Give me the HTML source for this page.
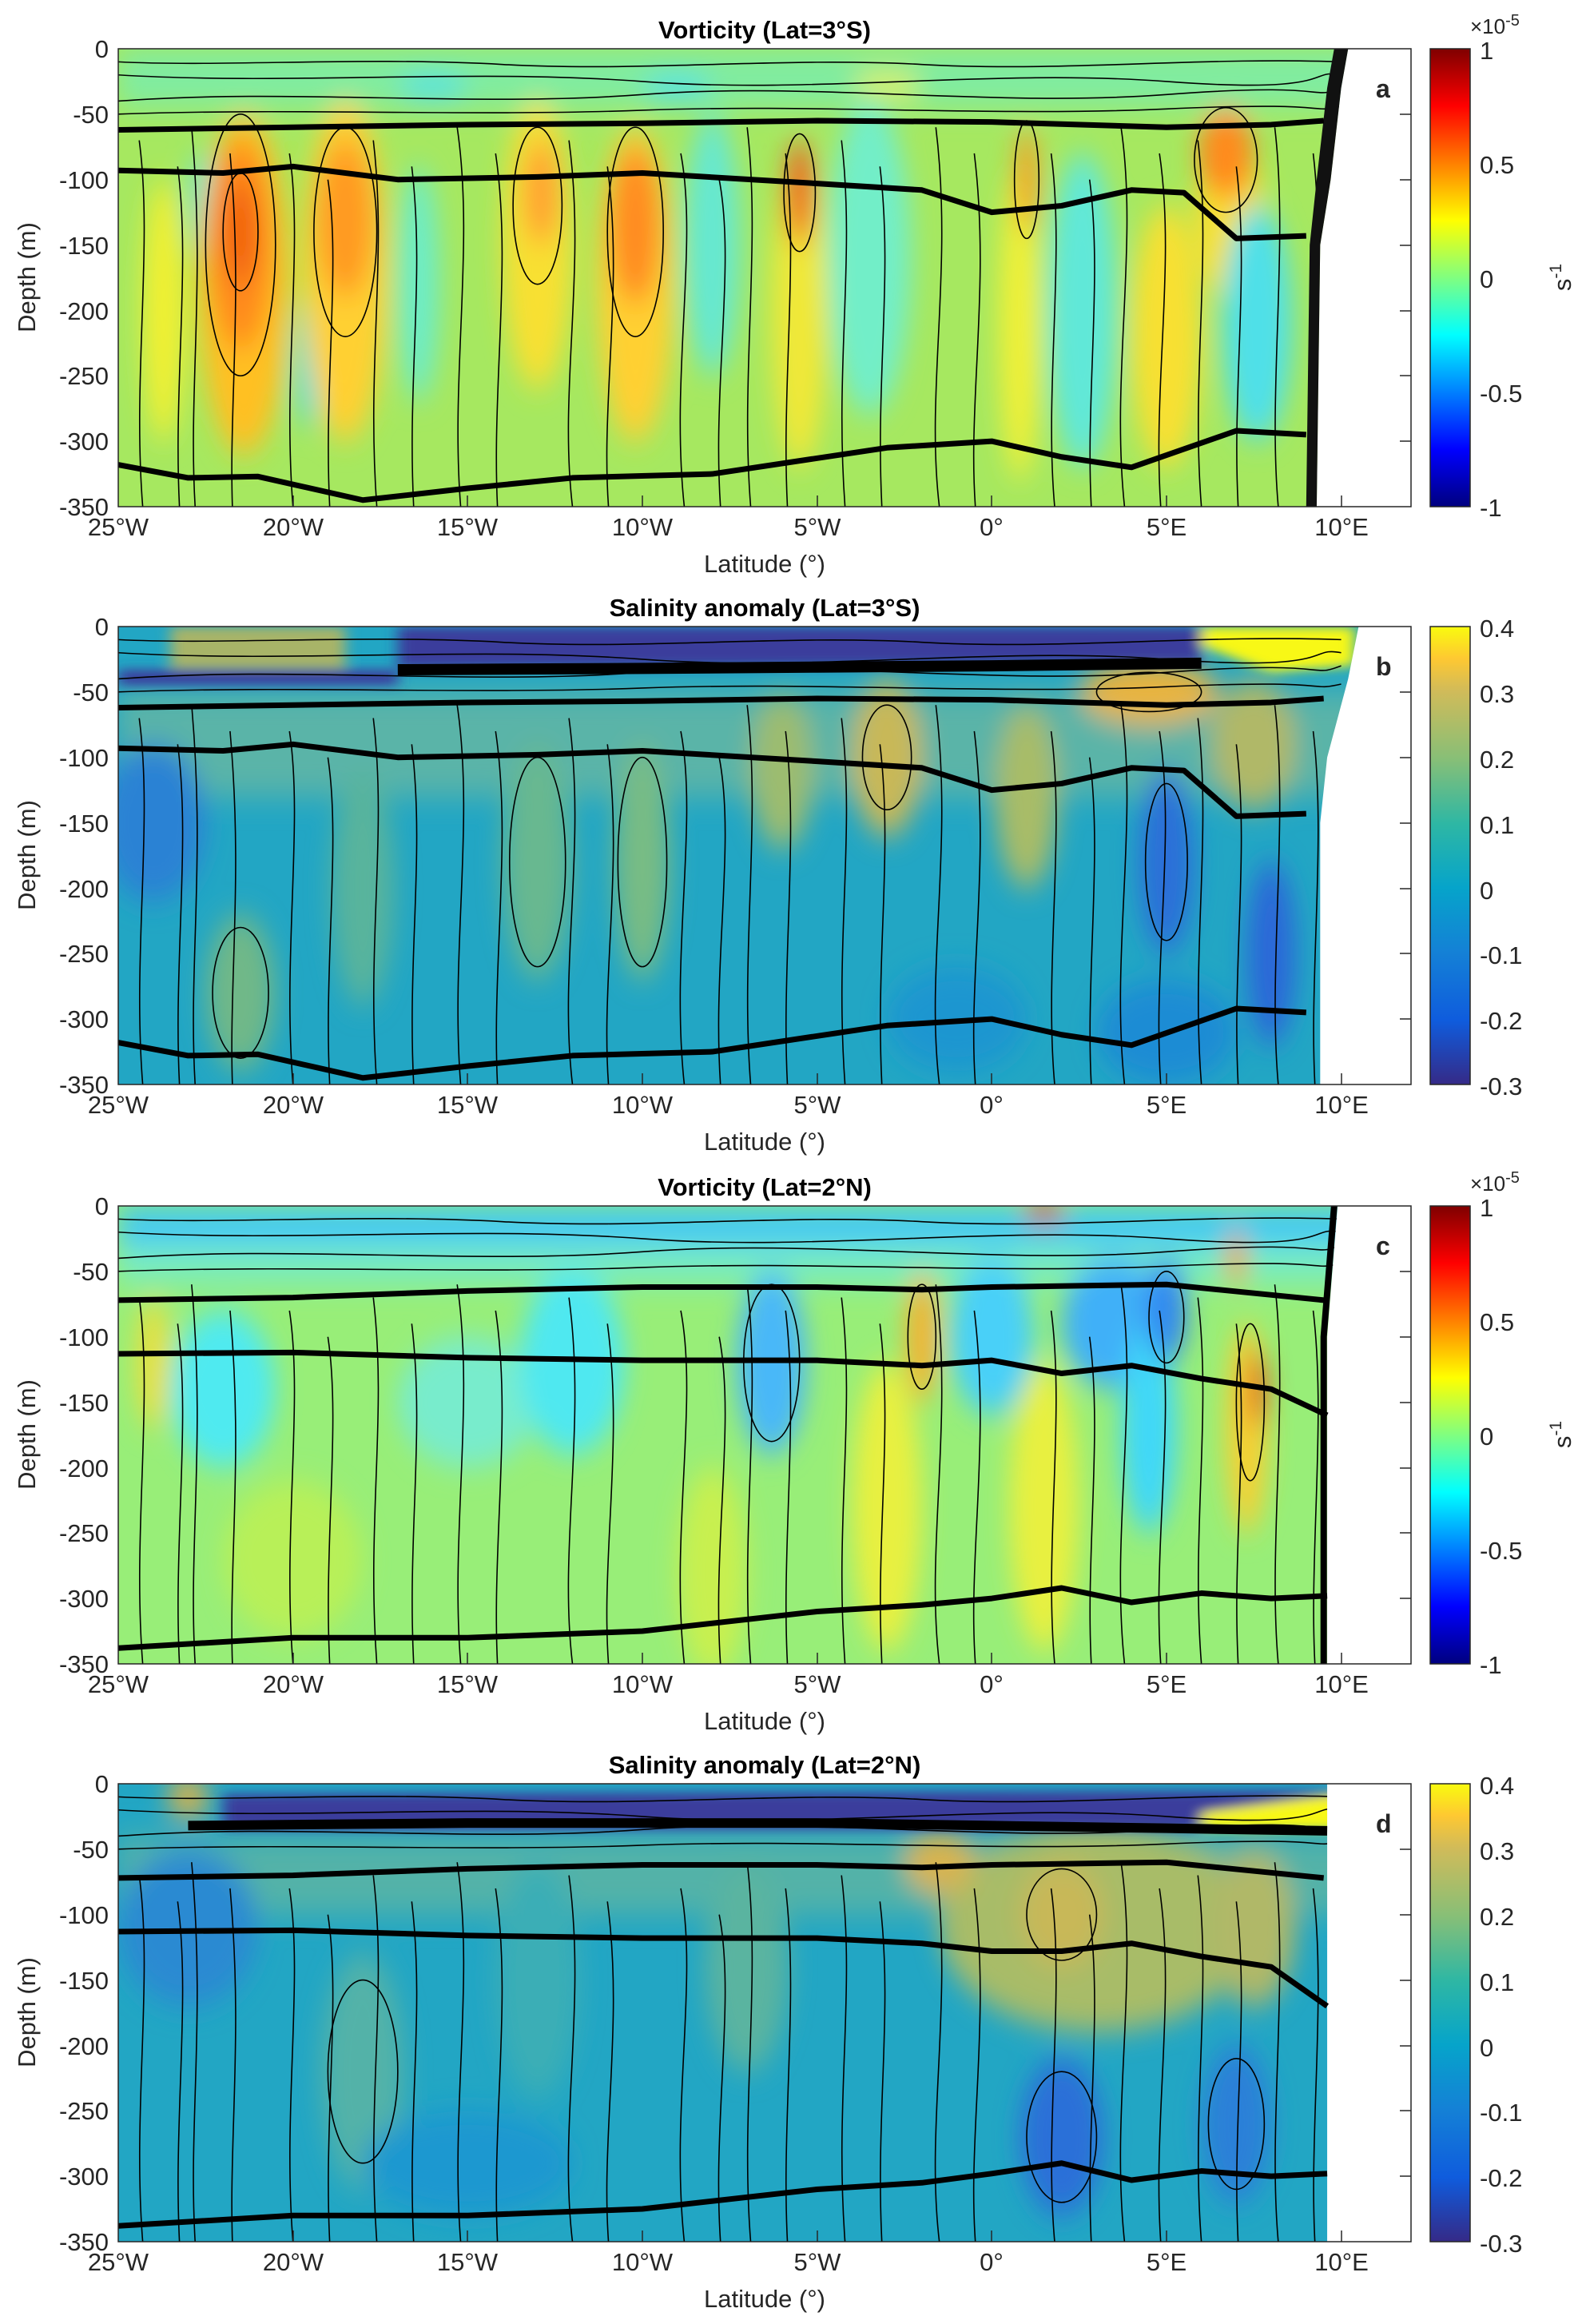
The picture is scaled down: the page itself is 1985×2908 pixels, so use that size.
<!DOCTYPE html>
<html><head><meta charset="utf-8"><style>
body{margin:0;background:#fff}
svg{display:block}
text{font-family:"Liberation Sans",sans-serif;fill:#262626}
.tk{font-size:31px}
.tt{font-size:31px;font-weight:bold;fill:#000}
.ct{stroke:#000;stroke-width:1.6;fill:none;vector-effect:non-scaling-stroke}
.th{stroke:#000;stroke-width:7;fill:none;vector-effect:non-scaling-stroke;stroke-linejoin:round}
.ax{stroke:#262626;stroke-width:1.5;fill:none;vector-effect:non-scaling-stroke}
</style></head><body>
<svg width="1985" height="2908" viewBox="0 0 1985 2908" xmlns="http://www.w3.org/2000/svg">
<defs>
<filter id="bl" filterUnits="userSpaceOnUse" x="-40" y="-100" width="70" height="600"><feGaussianBlur stdDeviation="0.35 11"/></filter>
<filter id="bs" filterUnits="userSpaceOnUse" x="-40" y="-100" width="70" height="600"><feGaussianBlur stdDeviation="0.2 4"/></filter>
<clipPath id="cp" clipPathUnits="userSpaceOnUse"><rect x="-25" y="0" width="37" height="350"/></clipPath>
<linearGradient id="jet" x1="0" y1="1" x2="0" y2="0">
<stop offset="0" stop-color="#00007f"/><stop offset="0.125" stop-color="#0000ff"/><stop offset="0.375" stop-color="#00ffff"/><stop offset="0.5" stop-color="#80ff80"/><stop offset="0.625" stop-color="#ffff00"/><stop offset="0.875" stop-color="#ff0000"/><stop offset="1" stop-color="#7f0000"/></linearGradient>
<linearGradient id="par" x1="0" y1="1" x2="0" y2="0">
<stop offset="0" stop-color="#352a87"/><stop offset="0.14" stop-color="#0f5cdd"/><stop offset="0.29" stop-color="#1481d6"/><stop offset="0.43" stop-color="#06a4ca"/><stop offset="0.57" stop-color="#2eb7a4"/><stop offset="0.71" stop-color="#87bf77"/><stop offset="0.86" stop-color="#d1bb59"/><stop offset="0.93" stop-color="#fec832"/><stop offset="1" stop-color="#f9fb0e"/></linearGradient>
<g id="vc0">
<path class="ct" d="M-24.3,350 C-24.6,250 -24,150 -24.4,70"/>
<path class="ct" d="M-22.8,350 C-23,260 -22.5,180 -22.9,60"/>
<path class="ct" d="M-20,350 C-20.3,250 -19.7,150 -20.1,80"/>
<path class="ct" d="M-17.6,350 C-17.9,240 -17.3,160 -17.7,70"/>
<path class="ct" d="M-15.2,350 C-15.5,250 -14.8,150 -15.3,60"/>
<path class="ct" d="M-12,350 C-12.4,260 -11.6,170 -12.1,70"/>
<path class="ct" d="M-8.8,350 C-9.2,250 -8.4,150 -8.9,80"/>
<path class="ct" d="M-6.9,350 C-7.2,250 -6.6,150 -7,60"/>
<path class="ct" d="M-4.2,350 C-4.5,240 -3.9,160 -4.3,70"/>
<path class="ct" d="M-1.5,350 C-1.9,260 -1.1,170 -1.6,60"/>
<path class="ct" d="M1.8,350 C1.5,260 2.1,160 1.7,80"/>
<path class="ct" d="M3.8,350 C3.4,250 4.2,150 3.7,60"/>
<path class="ct" d="M6,350 C5.7,250 6.3,160 5.9,70"/>
<path class="ct" d="M8.2,350 C7.9,260 8.5,150 8.1,60"/>
</g>
<g id="vc">
<use href="#vc0"/>
<use href="#vc0" transform="translate(1.1,20)"/>
<path class="ct" d="M-25,40 C-20,30 -15,45 -10,35 S0,45 5,35 S9,40 10,30"/>
<path class="ct" d="M-25,20 C-20,28 -15,15 -10,25 S0,15 5,25 S9,15 10,20"/>
<path class="ct" d="M-25,50 C-20,45 -15,52 -10,47 S0,52 5,46 S9,50 10,44"/>
<path class="ct" d="M-25,10 C-22,14 -18,6 -14,12 S-6,6 -2,12 S6,6 10,10"/>
</g>
</defs>

<!-- ===== Panel a ===== -->
<text class="tt" x="957" y="48" text-anchor="middle">Vorticity (Lat=3°S)</text>
<g transform="translate(148,61) scale(43.73,1.637) translate(25,0)">
<g clip-path="url(#cp)">
<rect x="-25" y="0" width="37" height="350" fill="#a6e860"/>
<g filter="url(#bl)">
<rect x="-25" y="0" width="37" height="45" fill="#80eca0"/>
<ellipse cx="-23.7" cy="200" rx="0.6" ry="100" fill="#f2f030"/>
<ellipse cx="-22.6" cy="120" rx="0.35" ry="40" fill="#50e8e0"/>
<ellipse cx="-21.4" cy="180" rx="1.3" ry="130" fill="#ffc020"/>
<ellipse cx="-21.5" cy="150" rx="0.9" ry="80" fill="#ff8a1a"/>
<ellipse cx="-21.5" cy="140" rx="0.45" ry="40" fill="#f05e10"/>
<ellipse cx="-19.6" cy="240" rx="0.3" ry="50" fill="#40dcea"/>
<ellipse cx="-18.5" cy="170" rx="1.2" ry="130" fill="#ffd030"/>
<ellipse cx="-18.5" cy="130" rx="0.8" ry="60" fill="#ff9a20"/>
<ellipse cx="-16.4" cy="180" rx="0.6" ry="90" fill="#6cecc8"/>
<ellipse cx="-13" cy="150" rx="1" ry="110" fill="#f8e030"/>
<ellipse cx="-12.9" cy="110" rx="0.5" ry="40" fill="#ffa030"/>
<ellipse cx="-10.2" cy="180" rx="1.1" ry="120" fill="#ffd030"/>
<ellipse cx="-10.2" cy="135" rx="0.7" ry="60" fill="#ff8a20"/>
<ellipse cx="-8" cy="150" rx="0.8" ry="100" fill="#66e8d0"/>
<ellipse cx="-5.5" cy="200" rx="0.8" ry="120" fill="#f0e838"/>
<ellipse cx="-5.5" cy="110" rx="0.4" ry="40" fill="#f06020"/>
<ellipse cx="-3.5" cy="160" rx="1.2" ry="120" fill="#72eec8"/>
<ellipse cx="0.8" cy="210" rx="0.6" ry="120" fill="#f0f038"/>
<ellipse cx="1" cy="100" rx="0.3" ry="40" fill="#ff9a20"/>
<ellipse cx="2.6" cy="200" rx="1" ry="120" fill="#60e8d8"/>
<ellipse cx="5" cy="220" rx="1" ry="100" fill="#f8e030"/>
<ellipse cx="6.8" cy="130" rx="1" ry="60" fill="#f8e030"/>
<ellipse cx="6.7" cy="80" rx="0.8" ry="35" fill="#ff8a1a"/>
<ellipse cx="7.6" cy="210" rx="1" ry="90" fill="#50e0e8"/>
<ellipse cx="-16" cy="30" rx="1" ry="8" fill="#40e0f0"/>
<ellipse cx="-9" cy="30" rx="1" ry="8" fill="#40e0f0"/>
<ellipse cx="-3" cy="28" rx="1" ry="8" fill="#f0f040"/>
</g>
<use href="#vc"/>
<ellipse class="ct" cx="-21.5" cy="150" rx="1" ry="100"/><ellipse class="ct" cx="-21.5" cy="140" rx="0.5" ry="45"/>
<ellipse class="ct" cx="-18.5" cy="140" rx="0.9" ry="80"/><ellipse class="ct" cx="-10.2" cy="140" rx="0.8" ry="80"/>
<ellipse class="ct" cx="-13" cy="120" rx="0.7" ry="60"/><ellipse class="ct" cx="-5.5" cy="110" rx="0.45" ry="45"/>
<ellipse class="ct" cx="6.7" cy="85" rx="0.9" ry="40"/><ellipse class="ct" cx="1" cy="100" rx="0.35" ry="45"/>
<path d="M9.3,350 L9.4,150 L9.7,100 L10,30 L10.2,0 L12,0 L12,350 Z" fill="#fff"/>
<path d="M9.0,350 L9.1,150 L9.3,100 L9.6,30 L9.8,0 L10.2,0 L10,30 L9.7,100 L9.4,150 L9.3,350 Z" fill="#111"/>
<path class="th" d="M-25,62 L-20,60 L-15,58 L-10,57 L-5,55 L0,56 L5,60 L8,58 L9.5,55"/>
<path class="th" d="M-25,93 L-22,95 L-20,90 L-17,100 L-13,98 L-10,95 L-5,103 L-2,108 L0,125 L2,120 L4,108 L5.5,110 L7,145 L9,143"/>
<path class="th" d="M-25,318 L-23,328 L-21,327 L-18,345 L-15,336 L-12,328 L-8,325 L-3,305 L0,300 L2,312 L4,320 L7,292 L9,295"/>
</g></g>

<!-- ===== Panel b ===== -->
<text class="tt" x="957" y="771" text-anchor="middle">Salinity anomaly (Lat=3°S)</text>
<g transform="translate(148,784) scale(43.73,1.637) translate(25,0)">
<g clip-path="url(#cp)">
<rect x="-25" y="0" width="37" height="350" fill="#22a6c4"/>
<g filter="url(#bl)">
<rect x="-25" y="50" width="37" height="80" fill="#5ab4a8"/>
<ellipse cx="-24" cy="150" rx="1.5" ry="60" fill="#2a82d4"/>
<ellipse cx="-21.5" cy="280" rx="1" ry="60" fill="#70b888"/>
<ellipse cx="-18" cy="200" rx="0.9" ry="90" fill="#58b49c"/>
<ellipse cx="-13" cy="180" rx="1" ry="90" fill="#68b890"/>
<ellipse cx="-10" cy="180" rx="0.8" ry="90" fill="#78bc84"/>
<ellipse cx="-6" cy="110" rx="0.9" ry="60" fill="#9cbc70"/>
<ellipse cx="-3" cy="100" rx="1" ry="60" fill="#c8b858"/>
<ellipse cx="1" cy="130" rx="0.9" ry="70" fill="#a8bc68"/>
<ellipse cx="4.5" cy="50" rx="2" ry="25" fill="#e8b440"/>
<ellipse cx="5" cy="180" rx="0.8" ry="70" fill="#2a70d8"/>
<ellipse cx="7.5" cy="90" rx="1.2" ry="50" fill="#b0b868"/>
<ellipse cx="8" cy="250" rx="0.7" ry="70" fill="#2a68d8"/>
<ellipse cx="-1" cy="300" rx="2" ry="40" fill="#1e96d0"/>
<ellipse cx="5" cy="310" rx="2" ry="40" fill="#1a8cd4"/>
</g>
<g filter="url(#bs)">
<rect x="-23.5" y="0" width="5" height="32" fill="#a8b468"/>
<rect x="-25" y="33" width="8" height="12" fill="#3b3d9e"/>
<path d="M-17,0 L6,0 L6,28 L-17,32 Z" fill="#3a3c9c"/>
<path d="M6,0 L10.4,0 L10.4,30 L8,35 L6,15 Z" fill="#f8f812"/>
</g>
<use href="#vc"/>
<ellipse class="ct" cx="-10" cy="180" rx="0.7" ry="80"/><ellipse class="ct" cx="-13" cy="180" rx="0.8" ry="80"/>
<ellipse class="ct" cx="-21.5" cy="280" rx="0.8" ry="50"/><ellipse class="ct" cx="5" cy="180" rx="0.6" ry="60"/>
<ellipse class="ct" cx="-3" cy="100" rx="0.7" ry="40"/><ellipse class="ct" cx="4.5" cy="50" rx="1.5" ry="15"/>
<path d="M9.4,350 L9.4,150 L9.6,100 L10.2,40 L10.5,0 L12,0 L12,350 Z" fill="#fff"/>
<path class="th" style="stroke-width:14" d="M-17,33 L-10,32 L-5,31 L0,30 L6,28"/>
<path class="th" d="M-25,62 L-20,60 L-15,58 L-10,57 L-5,55 L0,56 L5,60 L8,58 L9.5,55"/>
<path class="th" d="M-25,93 L-22,95 L-20,90 L-17,100 L-13,98 L-10,95 L-5,103 L-2,108 L0,125 L2,120 L4,108 L5.5,110 L7,145 L9,143"/>
<path class="th" d="M-25,318 L-23,328 L-21,327 L-18,345 L-15,336 L-12,328 L-8,325 L-3,305 L0,300 L2,312 L4,320 L7,292 L9,295"/>
</g></g>

<!-- ===== Panel c ===== -->
<text class="tt" x="957" y="1496" text-anchor="middle">Vorticity (Lat=2°N)</text>
<g transform="translate(148,1509) scale(43.73,1.637) translate(25,0)">
<g clip-path="url(#cp)">
<rect x="-25" y="0" width="37" height="350" fill="#98ee78"/>
<g filter="url(#bl)">
<rect x="-25" y="0" width="37" height="30" fill="#40c8f4"/>
<rect x="-25" y="30" width="37" height="30" fill="#78ecc0"/>
<ellipse cx="-24" cy="120" rx="0.5" ry="50" fill="#e8e040"/>
<ellipse cx="-22" cy="140" rx="1.5" ry="60" fill="#50eaf0"/>
<ellipse cx="-20" cy="270" rx="2" ry="60" fill="#b8f058"/>
<ellipse cx="-15" cy="150" rx="2" ry="50" fill="#78eccc"/>
<ellipse cx="-12" cy="120" rx="1.5" ry="70" fill="#50e8f0"/>
<ellipse cx="-6.3" cy="120" rx="1" ry="70" fill="#48b8f8"/>
<ellipse cx="-3" cy="230" rx="1" ry="110" fill="#e8f040"/>
<ellipse cx="-2" cy="100" rx="0.45" ry="50" fill="#f8b030"/>
<ellipse cx="0" cy="100" rx="1.2" ry="60" fill="#48d0f8"/>
<ellipse cx="1.5" cy="230" rx="1" ry="110" fill="#e8f040"/>
<ellipse cx="3.5" cy="90" rx="1.5" ry="50" fill="#40b0f8"/>
<ellipse cx="4.5" cy="170" rx="0.8" ry="80" fill="#40d8f8"/>
<ellipse cx="5" cy="80" rx="0.6" ry="40" fill="#3088f0"/>
<ellipse cx="7.3" cy="170" rx="0.6" ry="80" fill="#f8d030"/>
<ellipse cx="7.6" cy="140" rx="0.25" ry="30" fill="#e84010"/>
<ellipse cx="7" cy="40" rx="0.3" ry="20" fill="#f0a030"/>
<ellipse cx="1.5" cy="5" rx="0.6" ry="8" fill="#d02000"/>
<ellipse cx="-8" cy="280" rx="1" ry="80" fill="#c8f050"/>
</g>
<use href="#vc"/>
<ellipse class="ct" cx="-6.3" cy="120" rx="0.8" ry="60"/><ellipse class="ct" cx="-2" cy="100" rx="0.4" ry="40"/>
<ellipse class="ct" cx="7.4" cy="150" rx="0.4" ry="60"/><ellipse class="ct" cx="5" cy="85" rx="0.5" ry="35"/>
<path d="M9.6,350 L9.6,100 L9.9,0 L12,0 L12,350 Z" fill="#fff"/>
<path class="ct" style="stroke-width:8" d="M9.5,350 L9.5,100 L9.8,0"/>
<path class="th" d="M-25,72 L-20,70 L-15,65 L-10,62 L-5,62 L-2,64 L0,62 L5,60 L8,68 L9.5,72"/>
<path class="th" d="M-25,113 L-20,112 L-15,116 L-10,118 L-5,118 L-2,122 L0,118 L2,128 L4,122 L6,132 L8,140 L9.6,160"/>
<path class="th" d="M-25,338 L-20,330 L-15,330 L-10,325 L-5,310 L-2,305 L0,300 L2,292 L4,303 L6,296 L8,300 L9.6,298"/>
</g></g>

<!-- ===== Panel d ===== -->
<text class="tt" x="957" y="2219" text-anchor="middle">Salinity anomaly (Lat=2°N)</text>
<g transform="translate(148,2232) scale(43.73,1.637) translate(25,0)">
<g clip-path="url(#cp)">
<rect x="-25" y="0" width="37" height="350" fill="#22a6c4"/>
<g filter="url(#bl)">
<rect x="-25" y="40" width="37" height="60" fill="#52b2a8"/>
<ellipse cx="-23" cy="110" rx="2" ry="60" fill="#2a8ad2"/>
<ellipse cx="-18" cy="220" rx="1.2" ry="90" fill="#52b2a8"/>
<ellipse cx="-13" cy="150" rx="1.2" ry="90" fill="#3aaeb6"/>
<ellipse cx="-7" cy="140" rx="1.2" ry="80" fill="#5ab4a0"/>
<ellipse cx="-15" cy="290" rx="3" ry="40" fill="#1e98d0"/>
<ellipse cx="3" cy="110" rx="4.5" ry="80" fill="#a8bc68"/>
<ellipse cx="2" cy="100" rx="1.2" ry="40" fill="#c8b858"/>
<ellipse cx="-1.5" cy="60" rx="1" ry="25" fill="#d8b450"/>
<ellipse cx="7.5" cy="110" rx="1.2" ry="60" fill="#b0b868"/>
<ellipse cx="2" cy="270" rx="1.2" ry="60" fill="#2a70d8"/>
<ellipse cx="7" cy="260" rx="1" ry="60" fill="#2a80d8"/>
<ellipse cx="-23" cy="10" rx="0.6" ry="15" fill="#e8b440"/>
</g>
<g filter="url(#bs)">
<path d="M-22,8 L10,5 L10,35 L-22,35 Z" fill="#3a3c9c"/>
<path d="M6,22 L10,8 L10,35 L6,35 Z" fill="#f8f812"/>
</g>
<use href="#vc"/>
<ellipse class="ct" cx="2" cy="270" rx="1" ry="50"/><ellipse class="ct" cx="7" cy="260" rx="0.8" ry="50"/>
<ellipse class="ct" cx="2" cy="100" rx="1" ry="35"/><ellipse class="ct" cx="-18" cy="220" rx="1" ry="70"/>
<path d="M9.6,350 L9.6,0 L12,0 L12,350 Z" fill="#fff"/>
<path class="th" style="stroke-width:12" d="M-23,32 L-15,30 L-5,30 L0,32 L5,34 L9.6,36"/>
<path class="th" d="M-25,72 L-20,70 L-15,65 L-10,62 L-5,62 L-2,64 L0,62 L5,60 L8,68 L9.5,72"/>
<path class="th" d="M-25,113 L-20,112 L-15,116 L-10,118 L-5,118 L-2,122 L0,128 L2,128 L4,122 L6,132 L8,140 L9.6,170"/>
<path class="th" d="M-25,338 L-20,330 L-15,330 L-10,325 L-5,310 L-2,305 L0,298 L2,290 L4,303 L6,296 L8,300 L9.6,298"/>
</g></g>

<g fill="none" stroke="#262626" stroke-width="1.5">
<rect x="148" y="61" width="1618" height="573"/>
<rect x="148" y="784" width="1618" height="573"/>
<rect x="148" y="1509" width="1618" height="573"/>
<rect x="148" y="2232" width="1618" height="573"/>
</g>
<rect x="1790" y="61" width="50" height="573" fill="url(#jet)" stroke="#262626" stroke-width="1.5"/>
<rect x="1790" y="784" width="50" height="573" fill="url(#par)" stroke="#262626" stroke-width="1.5"/>
<rect x="1790" y="1509" width="50" height="573" fill="url(#jet)" stroke="#262626" stroke-width="1.5"/>
<rect x="1790" y="2232" width="50" height="573" fill="url(#par)" stroke="#262626" stroke-width="1.5"/>

<g class="tk" text-anchor="end">
<g id="yl">
<text x="136" y="72">0</text><text x="136" y="154">-50</text><text x="136" y="236">-100</text><text x="136" y="318">-150</text><text x="136" y="400">-200</text><text x="136" y="481">-250</text><text x="136" y="563">-300</text><text x="136" y="645">-350</text>
</g>
<use href="#yl" y="723"/><use href="#yl" y="1448"/><use href="#yl" y="2171"/>
</g>
<g class="tk" text-anchor="middle">
<g id="xl">
<text x="148" y="670">25°W</text><text x="367" y="670">20°W</text><text x="585" y="670">15°W</text><text x="804" y="670">10°W</text><text x="1023" y="670">5°W</text><text x="1241" y="670">0°</text><text x="1460" y="670">5°E</text><text x="1679" y="670">10°E</text>
<text x="957" y="716">Latitude (°)</text>
</g>
<use href="#xl" y="723"/><use href="#xl" y="1448"/><use href="#xl" y="2171"/>
<text transform="translate(44,347) rotate(-90)">Depth (m)</text>
<text transform="translate(44,1070) rotate(-90)">Depth (m)</text>
<text transform="translate(44,1795) rotate(-90)">Depth (m)</text>
<text transform="translate(44,2518) rotate(-90)">Depth (m)</text>
</g>
<g stroke="#262626" stroke-width="1.5" id="tks">
<path d="M1766,143h-14M1766,225h-14M1766,307h-14M1766,389h-14M1766,470h-14M1766,552h-14M1679,634v-14M1460,634v-14M1241,634v-14M1023,634v-14M804,634v-14M585,634v-14M367,634v-14"/>
</g>
<use href="#tks" y="723"/><use href="#tks" y="1448"/><use href="#tks" y="2171"/>
<g class="tt" style="font-size:32px">
<text x="1722" y="122">a</text><text x="1722" y="845">b</text><text x="1722" y="1570">c</text><text x="1722" y="2293">d</text>
</g>
<g class="tk">
<g id="cbj">
<text x="1852" y="74">1</text><text x="1852" y="217">0.5</text><text x="1852" y="360">0</text><text x="1852" y="503">-0.5</text><text x="1852" y="646">-1</text>
<text x="1840" y="42" style="font-size:26px">×10<tspan dy="-10" style="font-size:20px">-5</tspan></text>
<text transform="translate(1966,347) rotate(-90)" text-anchor="middle">s<tspan dy="-12" style="font-size:21px">-1</tspan></text>
</g>
<use href="#cbj" y="1448"/>
<g id="cbp">
<text x="1852" y="797">0.4</text><text x="1852" y="879">0.3</text><text x="1852" y="961">0.2</text><text x="1852" y="1043">0.1</text><text x="1852" y="1125">0</text><text x="1852" y="1206">-0.1</text><text x="1852" y="1288">-0.2</text><text x="1852" y="1370">-0.3</text>
</g>
<use href="#cbp" y="1448"/>
</g>
</svg>
</body></html>
